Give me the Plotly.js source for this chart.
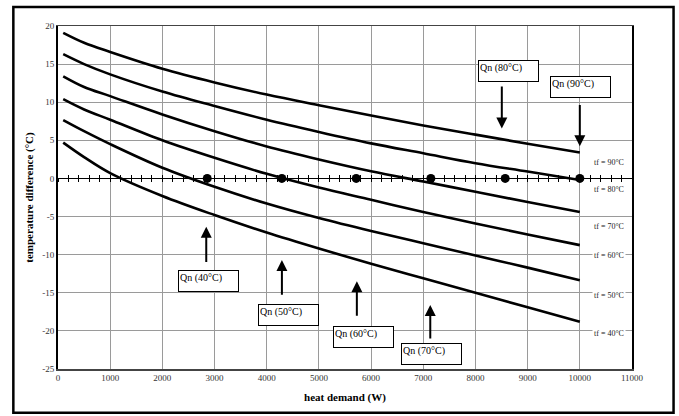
<!DOCTYPE html>
<html>
<head>
<meta charset="utf-8">
<script src="https://cdn.plot.ly/plotly-3.0.1.min.js"></script>
<style>
  html, body { margin: 0; padding: 0; background: #ffffff; }
  #chart { width: 679px; height: 416px; }
</style>
</head>
<body>
<div id="chart"></div>
<script>
// ---- data ----
const heatDemand = [100, 500, 1000, 2000, 3000, 4000, 5000, 6000, 7000, 8000, 9000, 10000];
const dT90 = [19.1, 17.8, 16.6, 14.4, 12.6, 11.0, 9.6, 8.25, 6.95, 5.75, 4.55, 3.4];
const dT80 = [16.3, 15.0, 13.65, 11.4, 9.5, 7.7, 6.1, 4.6, 3.3, 2.0, 0.9, -0.2];
const dT70 = [13.4, 12.0, 10.8, 8.4, 6.2, 4.2, 2.5, 0.95, -0.4, -1.75, -3.1, -4.4];
const dT60 = [10.4, 9.05, 7.7, 5.0, 2.7, 0.6, -1.2, -2.8, -4.4, -5.9, -7.35, -8.75];
const dT50 = [7.65, 6.2, 4.5, 1.4, -1.1, -3.3, -5.2, -6.9, -8.5, -10.1, -11.7, -13.35];
const dT40 = [4.7, 2.8, 0.7, -2.3, -4.8, -7.1, -9.2, -11.2, -13.1, -15.0, -16.9, -18.8];

const qnX = [2860, 4290, 5715, 7145, 8570, 10000];
const qnY = [0, 0, 0, 0, 0, 0];
const qnLabels = ["Qn (40°C)", "Qn (50°C)", "Qn (60°C)", "Qn (70°C)", "Qn (80°C)", "Qn (90°C)"];
const tfLabels = ["tf = 90°C", "tf = 80°C", "tf = 70°C", "tf = 60°C", "tf = 50°C", "tf = 40°C"];

const xTickVals = [0, 1000, 2000, 3000, 4000, 5000, 6000, 7000, 8000, 9000, 10000, 11000];
const yTickVals = [-25, -20, -15, -10, -5, 0, 5, 10, 15, 20];
const yTickText = ["-25", "-20", "-15", "-10", "-5", "0", "5", "10", "15", "20"];

// ---- placement (layout only) ----
const tfLabelPos = { x: 10230, y: [2.05, -1.45, -6.26, -10.07, -15.3, -20.3] };
const boxPos = [
  { x: 2884, y: -13.5 }, { x: 4418, y: -17.98 }, { x: 5850, y: -20.83 },
  { x: 7152, y: -23.0 }, { x: 8640, y: 14.04 }, { x: 10018, y: 12.0 }
];
const arrowPos = [
  { x: 2841, tip: -6.35, tail: -11.15 }, { x: 4291, tip: -10.7, tail: -15.45 },
  { x: 5727, tip: -13.5, tail: -18.2 }, { x: 7134, tip: -16.6, tail: -21.2 },
  { x: 8505, tip: 6.56, tail: 12.25 }, { x: 10000, tip: 4.24, tail: 9.84 }
];

const serif = "Liberation Serif, Times New Roman, serif";
const series = [dT90, dT80, dT70, dT60, dT50, dT40];

const traces = series.map(s => ({
  type: "scatter", mode: "lines", x: heatDemand, y: s,
  line: { color: "#000000", width: 2.6, shape: "spline", smoothing: 1 },
  hoverinfo: "skip", showlegend: false
}));

traces.push({
  type: "scatter", mode: "markers", x: qnX, y: qnY,
  marker: { color: "#000000", size: 9 },
  hoverinfo: "skip", showlegend: false
});
// carriers for the tick axes on the zero line
traces.push({ type: "scatter", mode: "markers", x: [0], y: [0], xaxis: "x2", marker: { opacity: 0 }, hoverinfo: "skip", showlegend: false });
traces.push({ type: "scatter", mode: "markers", x: [0], y: [0], xaxis: "x3", marker: { opacity: 0 }, hoverinfo: "skip", showlegend: false });

const annotations = [];
tfLabels.forEach((t, i) => {
  annotations.push({
    x: tfLabelPos.x, y: tfLabelPos.y[i], xref: "x", yref: "y",
    text: t, showarrow: false, xanchor: "left", yanchor: "middle",
    font: { family: serif, size: 8, color: "#222" },
    bgcolor: "#ffffff", borderpad: 1
  });
});
qnLabels.forEach((t, i) => {
  annotations.push({
    x: boxPos[i].x, y: boxPos[i].y, xref: "x", yref: "y",
    text: t, showarrow: false, xanchor: "center", yanchor: "middle",
    width: 57, height: 18, align: "left", valign: "top",
    font: { family: serif, size: 10, color: "#000" },
    bgcolor: "#ffffff", bordercolor: "#000000", borderwidth: 1, borderpad: 1
  });
  annotations.push({
    x: arrowPos[i].x, y: arrowPos[i].tip, xref: "x", yref: "y",
    ax: arrowPos[i].x, ay: arrowPos[i].tail, axref: "x", ayref: "y",
    text: "", showarrow: true, arrowhead: 2, arrowsize: 1.1, arrowwidth: 2,
    arrowcolor: "#000000", standoff: 0, startstandoff: 0
  });
});

const zeroPos = 25 / 45;
const layout = {
  width: 679, height: 416,
  margin: { l: 58, r: 47, t: 26, b: 47 },
  paper_bgcolor: "#ffffff", plot_bgcolor: "#ffffff",
  showlegend: false,
  xaxis: {
    range: [0, 11000], tickvals: xTickVals, tickformat: "d",
    showgrid: true, gridcolor: "#9a9a9a", gridwidth: 1,
    zeroline: false, showline: true, linecolor: "#444", linewidth: 1.5, mirror: true,
    ticks: "", tickfont: { family: serif, size: 9, color: "#333" },
    title: { text: "heat demand (W)", font: { family: serif, size: 11, color: "#000", weight: "bold" }, standoff: 11 }
  },
  xaxis2: {
    overlaying: "x", matches: "x", anchor: "free", position: zeroPos,
    showgrid: false, zeroline: false, showline: false, showticklabels: false,
    ticks: "outside", ticklen: 3, tickwidth: 1, tickcolor: "#000", dtick: 200, tick0: 0
  },
  xaxis3: {
    overlaying: "x", matches: "x", anchor: "free", position: zeroPos,
    showgrid: false, zeroline: false, showline: false, showticklabels: false,
    ticks: "inside", ticklen: 3, tickwidth: 1, tickcolor: "#000", dtick: 200, tick0: 0
  },
  yaxis: {
    range: [-25, 20], tickvals: yTickVals, ticktext: yTickText,
    showgrid: true, gridcolor: "#9a9a9a", gridwidth: 1,
    zeroline: true, zerolinecolor: "#000", zerolinewidth: 1.5,
    showline: true, linecolor: "#000", linewidth: 2, mirror: true,
    ticks: "", tickfont: { family: serif, size: 9, color: "#333" },
    title: { text: "temperature difference (°C)", font: { family: serif, size: 11, color: "#000", weight: "bold" }, standoff: 6 }
  },
  annotations: annotations,
  shapes: [{
    type: "rect", xref: "paper", yref: "paper",
    x0: -0.0778, x1: 1.0724, y0: -0.1273, y1: 1.0553,
    line: { color: "#000", width: 2.5 }, fillcolor: "rgba(0,0,0,0)", layer: "above"
  }]
};

Plotly.newPlot("chart", traces, layout, { displayModeBar: false, staticPlot: true });
</script>
</body>
</html>
